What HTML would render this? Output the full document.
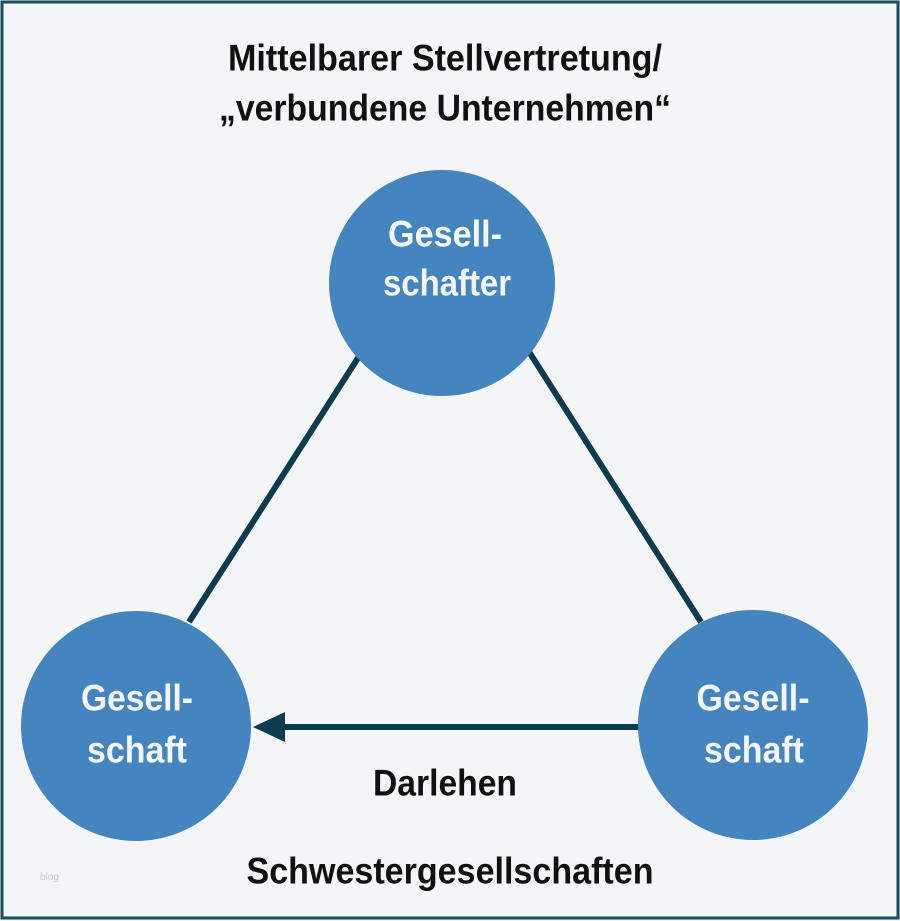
<!DOCTYPE html>
<html><head><meta charset="utf-8"><style>html,body{margin:0;padding:0;background:#f4f5f6}svg{display:block}</style></head>
<body>
<svg width="900" height="921" viewBox="0 0 900 921" xmlns="http://www.w3.org/2000/svg">
<rect x="0" y="0" width="900" height="921" fill="#f4f5f6"/>
<rect x="2" y="2" width="896" height="916" fill="none" stroke="#1d4a5c" stroke-width="3"/>
<g stroke="#0d3b4f" stroke-width="6" fill="none">
<line x1="365" y1="347" x2="189" y2="622"/>
<line x1="526" y1="347" x2="701" y2="622"/>
<line x1="282" y1="727" x2="640" y2="727"/>
</g>
<polygon points="253,727 285,712 285,742" fill="#0d3b4f"/>
<circle cx="442" cy="283" r="113" fill="#4485bf"/>
<circle cx="136" cy="726" r="115" fill="#4485bf"/>
<circle cx="753" cy="725" r="115" fill="#4485bf"/>
<g font-family="Liberation Sans, sans-serif" font-weight="bold" font-size="37" text-anchor="middle" dominant-baseline="central">
<text x="445" y="58" fill="#111" textLength="434" lengthAdjust="spacingAndGlyphs">Mittelbarer Stellvertretung/</text>
<text x="445" y="108" fill="#111" textLength="452" lengthAdjust="spacingAndGlyphs">„verbundene Unternehmen“</text>
<text x="445" y="234" fill="#f4f5f6" textLength="114" lengthAdjust="spacingAndGlyphs">Gesell-</text>
<text x="447" y="283" fill="#f4f5f6" textLength="128" lengthAdjust="spacingAndGlyphs">schafter</text>
<text x="137" y="698" fill="#f4f5f6" textLength="112" lengthAdjust="spacingAndGlyphs">Gesell-</text>
<text x="137" y="750" fill="#f4f5f6" textLength="100" lengthAdjust="spacingAndGlyphs">schaft</text>
<text x="753" y="698" fill="#f4f5f6" textLength="113" lengthAdjust="spacingAndGlyphs">Gesell-</text>
<text x="754" y="750" fill="#f4f5f6" textLength="100" lengthAdjust="spacingAndGlyphs">schaft</text>
<text x="445" y="783" fill="#111" textLength="144" lengthAdjust="spacingAndGlyphs">Darlehen</text>
<text x="450" y="871" fill="#111" textLength="407" lengthAdjust="spacingAndGlyphs">Schwestergesellschaften</text>
</g>
<text x="40" y="880" font-family="Liberation Sans, sans-serif" font-size="10" fill="#c8c8c8">blog</text>
</svg>
</body></html>
